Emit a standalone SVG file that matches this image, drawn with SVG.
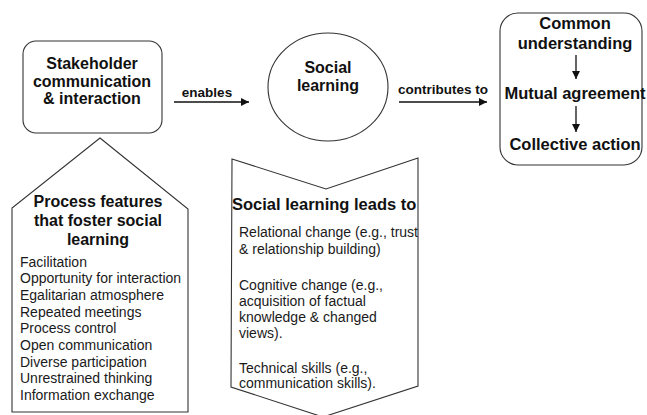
<svg xmlns="http://www.w3.org/2000/svg" width="647" height="415" viewBox="0 0 647 415">
  <defs>
    <marker id="ah" viewBox="0 0 10 10" refX="10" refY="5" markerWidth="10" markerHeight="8" markerUnits="userSpaceOnUse" orient="auto">
      <path d="M0,0 L10,5 L0,10 z" fill="#111"/>
    </marker>
    <style>
      .shape { fill: #fff; stroke: #333; stroke-width: 1.1; }
      .b { font-family: "Liberation Sans", Arial, sans-serif; font-weight: bold; fill: #111; }
      .r { font-family: "Liberation Sans", Arial, sans-serif; font-size: 14px; fill: #1a1a1a; }
      .h { font-size: 16px; text-anchor: middle; }
      .lbl { font-size: 13.5px; text-anchor: middle; }
      .conn { stroke: #111; stroke-width: 1.3; fill: none; marker-end: url(#ah); }
    </style>
  </defs>
  <rect width="647" height="415" fill="#fff"/>

  <g id="stakeholder">
    <rect class="shape" x="23" y="41" width="139" height="92" rx="13"/>
    <text class="b h" x="92" y="69">Stakeholder</text>
    <text class="b h" x="92" y="87">communication</text>
    <text class="b h" x="92" y="104">&amp; interaction</text>
  </g>

  <g id="social-learning">
    <ellipse class="shape" cx="328" cy="87" rx="60" ry="54"/>
    <text class="b h" x="328" y="73">Social</text>
    <text class="b h" x="328" y="91">learning</text>
  </g>

  <g id="outcomes">
    <rect class="shape" x="500" y="13" width="142" height="152" rx="18"/>
    <text class="b h" x="575" y="29" style="font-size:16.5px">Common</text>
    <text class="b h" x="575" y="49" style="font-size:16.5px">understanding</text>
    <text class="b h" x="575" y="99" style="font-size:16.5px">Mutual agreement</text>
    <text class="b h" x="575" y="150" style="font-size:16.5px">Collective action</text>
  </g>

  <g id="process-features">
    <polygon class="shape" points="100,138 188,209 188,412 12,412 12,208"/>
    <text class="b h" x="98" y="207">Process features</text>
    <text class="b h" x="98" y="226">that foster social</text>
    <text class="b h" x="98" y="245">learning</text>
    <text class="r" x="20" y="266.5">Facilitation</text>
    <text class="r" x="20" y="283.2">Opportunity for interaction</text>
    <text class="r" x="20" y="299.9">Egalitarian atmosphere</text>
    <text class="r" x="20" y="316.6">Repeated meetings</text>
    <text class="r" x="20" y="333.3">Process control</text>
    <text class="r" x="20" y="350">Open communication</text>
    <text class="r" x="20" y="366.7">Diverse participation</text>
    <text class="r" x="20" y="383.4">Unrestrained thinking</text>
    <text class="r" x="20" y="400">Information exchange</text>
  </g>

  <g id="leads-to">
    <polygon class="shape" points="232,159 326,189 418,158 418,386 323,417 231,387"/>
    <text class="b" x="232" y="210" style="font-size:16.5px">Social learning leads to</text>
    <text class="r" x="239" y="237">Relational change (e.g., trust</text>
    <text class="r" x="239" y="254">&amp; relationship building)</text>
    <text class="r" x="239" y="289.5">Cognitive change (e.g.,</text>
    <text class="r" x="239" y="305.5">acquisition of factual</text>
    <text class="r" x="239" y="321.5">knowledge &amp; changed</text>
    <text class="r" x="239" y="337.5">views).</text>
    <text class="r" x="239" y="372.5">Technical skills (e.g.,</text>
    <text class="r" x="239" y="388">communication skills).</text>
  </g>

  <g id="connectors">
    <line class="conn" x1="174" y1="102" x2="249" y2="102"/>
    <text class="b lbl" x="207" y="96.5">enables</text>
    <line class="conn" x1="399" y1="102" x2="487" y2="102"/>
    <text class="b lbl" x="443" y="93.5">contributes to</text>
    <line class="conn" x1="576" y1="55" x2="576" y2="79"/>
    <line class="conn" x1="576" y1="106" x2="576" y2="132"/>
  </g>
</svg>
